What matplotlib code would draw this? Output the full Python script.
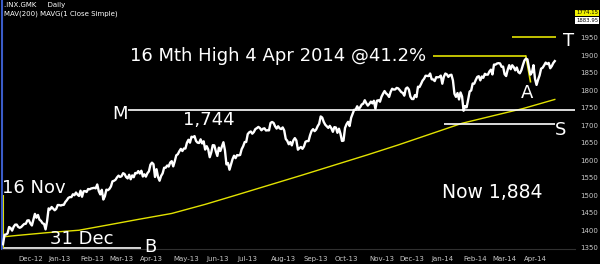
import numpy as np
import matplotlib
matplotlib.use("Agg")
import matplotlib.pyplot as plt

# S&P 500 daily closes, 16 Nov 2012 - 30 Apr 2014 (one row per month)
closes = [
    1359.88, 1386.89, 1387.81, 1391.03, 1409.15, 1406.29, 1398.94, 1409.93, 1415.95, 1416.18,
    1409.46, 1407.05, 1409.28, 1413.94, 1418.07, 1418.55, 1427.84, 1428.48, 1419.45, 1413.58,
    1430.36, 1446.79, 1435.81, 1443.69, 1430.15, 1426.66, 1419.83, 1418.10, 1402.43, 1426.19,
    1462.42, 1459.37, 1466.47, 1461.89, 1457.15, 1461.02, 1472.12, 1472.05, 1470.68, 1472.34,
    1472.63, 1480.94, 1485.98, 1492.56, 1494.81, 1494.82, 1502.96, 1500.18, 1507.84, 1501.96, 1498.11,
    1513.17, 1495.71, 1511.29, 1512.12, 1509.39, 1517.93, 1517.01, 1519.43, 1520.33, 1521.38,
    1519.79, 1530.94, 1511.95, 1502.42, 1515.60, 1487.85, 1496.94, 1515.99, 1514.68,
    1518.20, 1525.20, 1539.79, 1541.46, 1544.26, 1551.18, 1556.22, 1552.48, 1554.52, 1563.23,
    1560.70, 1552.10, 1548.34, 1558.71, 1545.80, 1556.89, 1551.69, 1563.77, 1562.85, 1569.19,
    1562.17, 1570.25, 1553.69, 1559.98, 1553.28, 1563.07, 1568.61, 1587.73, 1593.37, 1588.85, 1552.36,
    1574.57, 1552.01, 1541.61, 1555.25, 1562.50, 1578.78, 1578.79, 1585.16, 1582.24, 1593.61, 1597.57,
    1582.70, 1597.59, 1614.42, 1617.50, 1625.96, 1632.69, 1626.67, 1633.70, 1633.77, 1650.34, 1658.78,
    1650.47, 1667.47, 1666.29, 1669.16, 1655.35, 1650.51, 1649.60, 1660.06, 1648.36, 1654.41, 1630.74,
    1640.42, 1631.38, 1608.90, 1622.56, 1643.38, 1642.81, 1626.13, 1612.52, 1636.36, 1626.73,
    1639.04, 1651.81, 1628.93, 1588.19, 1592.43, 1573.09, 1588.03, 1603.26, 1613.20, 1606.28,
    1614.96, 1614.08, 1615.41, 1631.89, 1640.46, 1652.32, 1652.62, 1675.02, 1680.19, 1682.50, 1676.26,
    1680.91, 1689.37, 1692.09, 1695.53, 1692.39, 1685.94, 1690.25, 1691.65, 1685.33, 1685.96, 1685.73,
    1706.87, 1709.67, 1707.14, 1697.37, 1690.91, 1697.48, 1691.42, 1689.47, 1694.16, 1685.39, 1661.32,
    1655.83, 1646.06, 1652.35, 1642.80, 1656.96, 1663.50, 1656.78, 1630.48, 1634.96, 1638.17, 1632.97,
    1639.77, 1653.08, 1655.08, 1655.17, 1671.71, 1683.99, 1689.13, 1683.42, 1687.99, 1697.60,
    1704.76, 1725.52, 1722.34, 1709.91, 1701.84, 1697.42, 1692.77, 1698.67, 1691.75, 1681.55,
    1695.00, 1693.87, 1678.66, 1690.50, 1676.12, 1655.45, 1656.40, 1692.56, 1703.20, 1710.14, 1698.06, 1721.54,
    1733.15, 1744.50, 1744.66, 1754.67, 1746.38, 1752.07, 1759.77, 1762.11, 1771.95, 1763.31, 1756.54,
    1761.64, 1767.93, 1762.97, 1770.49, 1747.15, 1770.61, 1771.89, 1767.69, 1782.00, 1790.62,
    1798.18, 1791.53, 1787.87, 1781.37, 1795.85, 1804.76, 1802.48, 1802.75, 1807.23, 1805.81,
    1800.90, 1795.15, 1792.81, 1785.03, 1805.09, 1808.37, 1802.62, 1782.22, 1775.50, 1775.32, 1786.54,
    1781.00, 1810.65, 1809.60, 1818.32, 1827.99, 1833.32, 1842.02, 1841.40, 1841.07, 1848.36,
    1831.98, 1831.37, 1826.77, 1837.88, 1837.49, 1838.13, 1842.37, 1819.20, 1838.88, 1848.38, 1845.89,
    1838.70, 1843.80, 1844.86, 1828.46, 1790.29, 1781.56, 1792.50, 1774.20, 1794.19, 1782.59,
    1741.89, 1755.20, 1751.64, 1773.43, 1797.02, 1799.84, 1819.75, 1819.26, 1829.83, 1838.63,
    1840.76, 1828.75, 1839.78, 1836.25, 1847.61, 1845.12, 1845.16, 1854.29, 1859.45,
    1845.73, 1873.91, 1873.81, 1877.03, 1878.04, 1877.17, 1867.63, 1868.20, 1846.34, 1841.13, 1858.83,
    1872.25, 1860.77, 1872.01, 1866.52, 1857.44, 1865.62, 1852.56, 1849.04, 1857.62, 1872.34,
    1885.52, 1890.90, 1888.77, 1865.09, 1845.04, 1851.96, 1872.18, 1833.08, 1815.69, 1830.61, 1842.98,
    1862.31, 1864.85, 1871.89, 1879.55, 1875.39, 1878.61, 1863.40, 1869.43, 1878.33, 1883.95,
]

month_labels = ["Nov-12", "Dec-12", "Jan-13", "Feb-13", "Mar-13", "Apr-13", "May-13", "Jun-13",
                "Jul-13", "Aug-13", "Sep-13", "Oct-13", "Nov-13", "Dec-13", "Jan-14", "Feb-14",
                "Mar-14", "Apr-14"]
month_days = [10, 20, 21, 19, 20, 22, 22, 20, 22, 22, 20, 23, 20, 21, 21, 19, 21, 21]

# 200 day moving average: first day, then each month end
mav_start = 1381
mav200 = [1385, 1393, 1400, 1415, 1431, 1448, 1474, 1500, 1529, 1558, 1585, 1616,
          1644, 1675, 1706, 1726, 1748, 1774.15]

high_level = 1898
top_level = 1952
mid_level = 1744
support_level = 1704
base_level = 1350
nov_mark_top = 1500

WHITE = "#ffffff"
YELLOW = "#e2e200"
GREY = "#c8c8c8"

x = np.arange(len(closes))
month_ends = np.cumsum(month_days) - 1
month_starts = np.concatenate([[0], month_ends[:-1] + 1])
mav_x = np.concatenate([[0], month_ends])
mav_y = [mav_start] + mav200

fig = plt.figure(figsize=(6, 2.64), dpi=100, facecolor="black")
ax = fig.add_axes([2 / 600, 15 / 264, 573 / 600, 249 / 264], facecolor="black")

ax.plot(mav_x, mav_y, color=YELLOW, lw=1.0, zorder=2)
ax.plot(x, closes, color=WHITE, lw=1.7, zorder=3)

# annotation lines
ax.hlines(high_level, 283, 344, color=YELLOW, lw=1.2)
ax.plot([344, 347], [high_level, 1825], color=YELLOW, lw=1.2)
ax.hlines(top_level, 335, 364, color=YELLOW, lw=1.2)
ax.hlines(mid_level, 82, 376, color=WHITE, lw=1.2)
ax.hlines(support_level, 290, 363, color=WHITE, lw=1.2)
ax.hlines(base_level, 0, 91, color=WHITE, lw=1.2)
ax.vlines(0, base_level, nov_mark_top, color=YELLOW, lw=1.5)

big = dict(color=WHITE, fontsize=13, va="center")
ax.text(83.5, high_level, "16 Mth High 4 Apr 2014 @41.2%", ha="left", **big)
ax.text(372, 1941, "T", ha="center", **big)
ax.text(345, 1792, "A", ha="center", **big)
ax.text(77, 1732, "M", ha="center", **big)
ax.text(135.5, 1715, "1,744", ha="center", **big)
ax.text(367, 1686, "S", ha="center", **big)
ax.text(96.7, 1351, "B", ha="center", **big)
ax.text(52, 1375, "31 Dec", ha="center", **big)
ax.text(20.4, 1520, "16 Nov", ha="center", **big)
ax.text(322, 1507, "Now 1,884", ha="center", color=WHITE, fontsize=13.5, va="center")

ax.set_xlim(-0.66, 376.3)
ax.set_ylim(1346.3, 2058.7)

ax.set_xticks(month_starts[1:])
ax.set_xticklabels(month_labels[1:], ha="left")
ax.set_yticks(np.arange(1350, 1951, 50))
ax.yaxis.tick_right()
ax.tick_params(axis="both", length=0, labelsize=5, colors=GREY)
ax.tick_params(axis="x", pad=5)
ax.tick_params(axis="y", pad=3.5)

for side in ["top", "right"]:
    ax.spines[side].set_visible(False)
ax.spines["left"].set_color("#3a5cc8")
ax.spines["left"].set_linewidth(1.5)
ax.spines["bottom"].set_color("#303030")

fig.text(4 / 600, 1 - 5 / 264, ".INX.GMK     Daily", color=WHITE, fontsize=5, va="center")
fig.text(4 / 600, 1 - 14 / 264, "MAV(200) MAVG(1 Close Simple)", color=WHITE, fontsize=5, va="center")
fig.text(576 / 600, 1 - 13 / 264, f"{mav200[-1]:.2f}", color="black", fontsize=3.9, va="center",
         bbox=dict(boxstyle="square,pad=0.1", fc="#f0f000", ec="none"))
fig.text(576 / 600, 1 - 20.5 / 264, f"{closes[-1]:.2f}", color="black", fontsize=3.9, va="center",
         bbox=dict(boxstyle="square,pad=0.1", fc="white", ec="none"))

fig.savefig("out.png", dpi=100, facecolor="black")
